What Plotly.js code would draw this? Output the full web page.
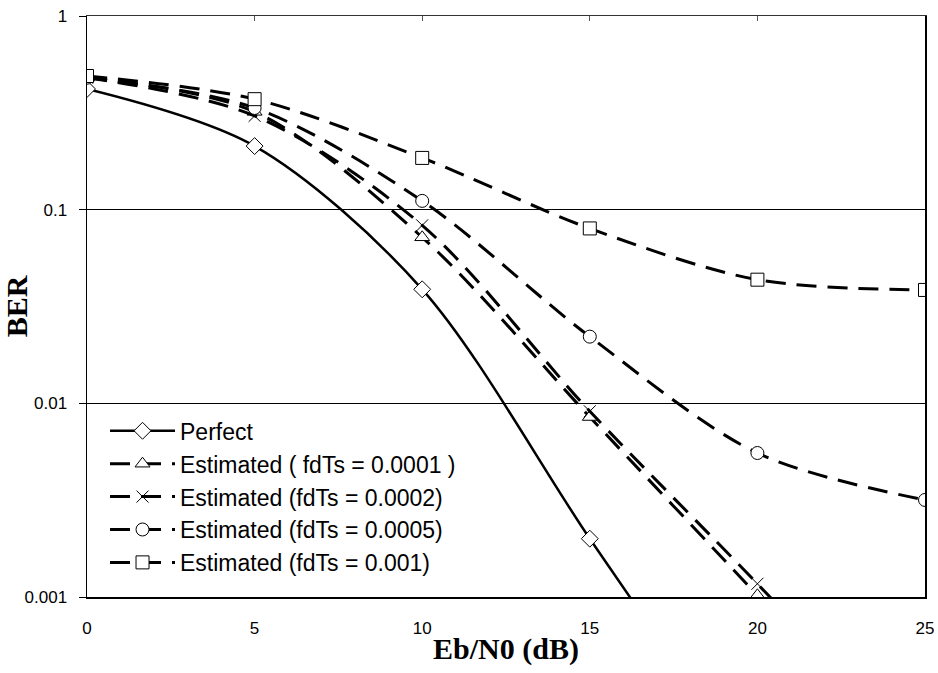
<!DOCTYPE html>
<html>
<head>
<meta charset="utf-8">
<script src="https://cdn.plot.ly/plotly-3.0.1.min.js"></script>
<style>html,body{margin:0;padding:0;background:#fff;}#chart{width:938px;height:673px;}</style>
</head>
<body>
<div id="chart"></div>
<script>
// Data
var ebn0 = [0, 5, 10, 15, 20, 25];
var perfect = [0.42, 0.213, 0.0388, 0.0020, 0.00011];
var est0001 = [0.48, 0.32, 0.072, 0.0085, 0.00102, 0.00012];
var est0002 = [0.48, 0.305, 0.083, 0.0091, 0.00117, 0.00014];
var est0005 = [0.48, 0.335, 0.111, 0.0221, 0.00554, 0.00317];
var est001  = [0.49, 0.372, 0.185, 0.080, 0.0435, 0.0385];

var seriesNames = ['Perfect', 'Estimated ( fdTs = 0.0001 )', 'Estimated (fdTs = 0.0002)', 'Estimated (fdTs = 0.0005)', 'Estimated (fdTs = 0.001)'];
var yTickVals = [0.001, 0.01, 0.1, 1];
var yTickText = ['0.001', '0.01', '0.1', '1'];
var xTickVals = [0, 5, 10, 15, 20, 25];

var ys = [perfect, est0001, est0002, est0005, est001];
var symbols = ['diamond', 'triangle-up', 'x-thin-open', 'circle', 'square'];
var msizes = [13, 13, 12, 13, 13];

var traces = ys.map(function (y, i) {
  var isX = symbols[i] === 'x-thin-open';
  return {
    x: ebn0.slice(0, y.length),
    y: y,
    name: seriesNames[i],
    type: 'scatter',
    mode: 'lines+markers',
    line: {color: '#000', width: i === 0 ? 2.5 : 3, dash: i === 0 ? 'solid' : '20px,11px', shape: 'spline', smoothing: 0.9},
    marker: {
      symbol: symbols[i],
      size: msizes[i],
      color: isX ? '#000' : '#fff',
      line: {color: '#000', width: 1}
    }
  };
});

// dummy trace for top axis ticks
traces.push({x: [0, 25], y: [1, 1], xaxis: 'x2', yaxis: 'y', mode: 'none', showlegend: false, hoverinfo: 'skip'});

var layout = {
  width: 938, height: 673,
  margin: {l: 87, r: 13, t: 16, b: 76},
  paper_bgcolor: '#fff', plot_bgcolor: '#fff',
  showlegend: true,
  legend: {
    x: 0.0215, y: 0.323, xanchor: 'left', yanchor: 'top',
    bgcolor: 'rgba(255,255,255,0)',
    font: {family: 'Liberation Sans, Arial, sans-serif', size: 23, color: '#000'},
    itemwidth: 65, traceorder: 'normal'
  },
  xaxis: {
    type: 'linear', range: [0, 25],
    tickvals: xTickVals, ticktext: xTickVals.map(String),
    showgrid: false, zeroline: false,
    showline: true, linecolor: '#000', linewidth: 1.5,
    ticks: '', ticklabelstandoff: 15,
    tickfont: {family: 'Liberation Sans, Arial, sans-serif', size: 17, color: '#000'},
    title: {text: '<b>Eb/N0 (dB)</b>', font: {family: 'Liberation Serif, Times New Roman, serif', size: 30, color: '#000'}, standoff: 1}
  },
  xaxis2: {
    overlaying: 'x', side: 'top', range: [0, 25],
    tickvals: xTickVals, showticklabels: false,
    ticks: 'inside', ticklen: 5, tickcolor: '#555',
    showgrid: false, zeroline: false,
    showline: true, linecolor: '#333', linewidth: 1
  },
  yaxis: {
    type: 'log', range: [-3, 0],
    tickvals: yTickVals, ticktext: yTickText,
    showgrid: true, gridcolor: '#000', gridwidth: 1,
    zeroline: false,
    showline: true, linecolor: '#000', linewidth: 1.5, mirror: true,
    ticks: 'outside', ticklen: 7, tickcolor: '#000', ticklabelstandoff: 8,
    tickfont: {family: 'Liberation Sans, Arial, sans-serif', size: 17, color: '#000'},
    title: {text: '<b>BER</b>', font: {family: 'Liberation Serif, Times New Roman, serif', size: 30, color: '#000'}, standoff: 3}
  }
};

Plotly.newPlot('chart', traces, layout, {displayModeBar: false, staticPlot: true});
</script>
</body>
</html>
